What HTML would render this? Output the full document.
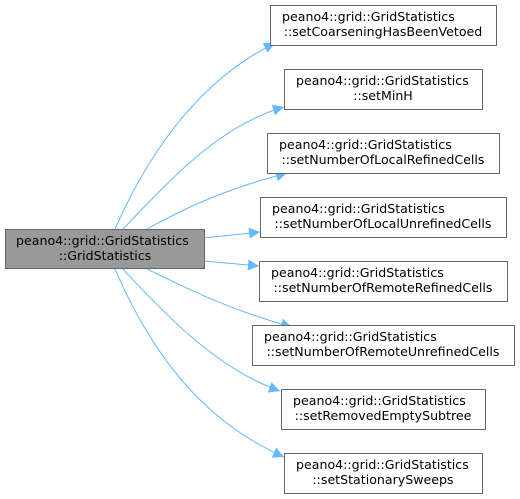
<!DOCTYPE html>
<html><head><style>
html,body{margin:0;padding:0;background:#fff;}
svg{display:block;}
text{font-family:"DejaVu Sans","Liberation Sans",sans-serif;font-size:12.6px;fill:#000;}
</style></head><body>
<svg width="520" height="499" viewBox="0 0 520 499" xmlns="http://www.w3.org/2000/svg">
<defs>
<marker id="a" viewBox="0 0 10 10" refX="10" refY="5" markerWidth="11" markerHeight="11" markerUnits="userSpaceOnUse" orient="auto">
<path d="M0,0 L10,5 L0,10 z" fill="#63b8ff"/>
</marker>
</defs>
<g fill="none" stroke="#63b8ff" stroke-width="1" marker-end="url(#a)">
<path d="M115,229 C150,150 200,80 275,43"/>
<path d="M123,229 C170,180 220,125 284,107"/>
<path d="M147,229 C190,205 230,188 287,173"/>
<path d="M204,238 L260,232"/>
<path d="M204,261 L259,266"/>
<path d="M147,269 C190,290 230,310 292,327"/>
<path d="M123,269 C170,320 220,370 280,391"/>
<path d="M115,269 C150,350 200,420 284,457"/>
</g>
<g stroke-width="1">
<rect x="5.5" y="229.5" width="199" height="39" fill="#999" stroke="#666"/>
<rect x="270.5" y="5.5" width="226" height="40" fill="#fff" stroke="#666"/>
<rect x="284.5" y="69.5" width="198" height="40" fill="#fff" stroke="#666"/>
<rect x="267.5" y="133.5" width="232" height="40" fill="#fff" stroke="#666"/>
<rect x="260.5" y="197.5" width="246" height="40" fill="#fff" stroke="#666"/>
<rect x="259.5" y="261.5" width="248" height="40" fill="#fff" stroke="#666"/>
<rect x="252.5" y="325.5" width="262" height="40" fill="#fff" stroke="#666"/>
<rect x="281.5" y="389.5" width="204" height="40" fill="#fff" stroke="#666"/>
<rect x="284.5" y="453.5" width="198" height="40" fill="#fff" stroke="#666"/>
</g>
<g>
<text x="16" y="245">peano4::grid::GridStatistics</text>
<text x="282" y="21">peano4::grid::GridStatistics</text>
<text x="296" y="85">peano4::grid::GridStatistics</text>
<text x="279" y="149">peano4::grid::GridStatistics</text>
<text x="272" y="213">peano4::grid::GridStatistics</text>
<text x="271" y="277">peano4::grid::GridStatistics</text>
<text x="264" y="341">peano4::grid::GridStatistics</text>
<text x="293" y="405">peano4::grid::GridStatistics</text>
<text x="296" y="469">peano4::grid::GridStatistics</text>
</g>
<g text-anchor="middle">
<text x="105" y="260">::GridStatistics</text>
<text x="383" y="36">::setCoarseningHasBeenVetoed</text>
<text x="383" y="100">::setMinH</text>
<text x="383" y="164">::setNumberOfLocalRefinedCells</text>
<text x="383" y="228">::setNumberOfLocalUnrefinedCells</text>
<text x="383" y="292">::setNumberOfRemoteRefinedCells</text>
<text x="383" y="356">::setNumberOfRemoteUnrefinedCells</text>
<text x="383" y="420">::setRemovedEmptySubtree</text>
<text x="383" y="484">::setStationarySweeps</text>
</g>
</svg>
</body></html>
